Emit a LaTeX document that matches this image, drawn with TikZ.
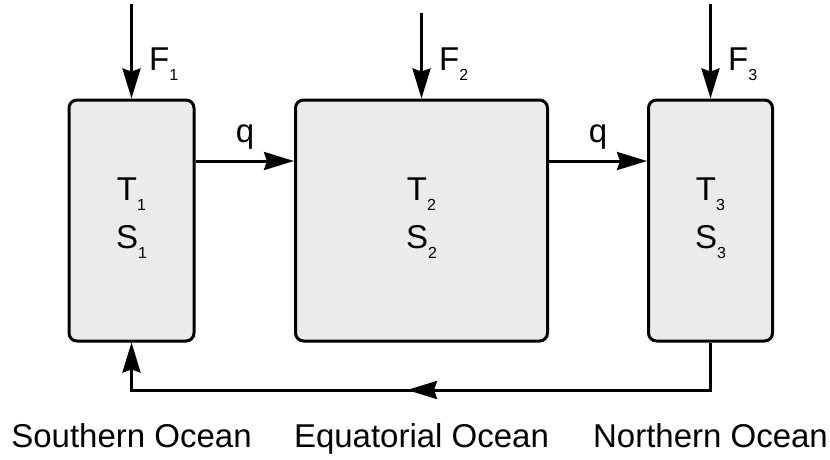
\documentclass[tikz,border=0pt]{standalone}
\usepackage{fontspec}
\setmainfont{Liberation Sans}
\usetikzlibrary{arrows.meta,calc}
\newcommand{\sbx}[1]{\raisebox{-10pt}{\fontsize{16pt}{16pt}\selectfont #1}}
\definecolor{boxgray}{RGB}{235,235,235}
\begin{document}
\begin{tikzpicture}[x=1pt,y=-1pt,
  ocean/.style={draw=black, line width=3pt, fill=boxgray, rounded corners=8pt, inner sep=0pt, minimum height=241pt},
  flow/.style={line width=3pt, -{Stealth[length=30pt,width=18pt,inset=3pt]}},
  lbl/.style={font=\fontsize{33pt}{33pt}\selectfont, inner sep=0pt, anchor=base},
  flbl/.style={font=\fontsize{33pt}{33pt}\selectfont, inner sep=0pt, anchor=base west}]
\useasboundingbox (0,0) rectangle (830,459);
% boxes
\node[ocean, minimum width=125pt] (L) at (131.5,220.5) {};
\node[ocean, minimum width=252pt] (M) at (421.5,220.5) {};
\node[ocean, minimum width=124pt] (R) at (710.5,220.5) {};
% box contents
\node[lbl] (t1) at (131.5,200) {T\sbx{1}};
\node[lbl] (s1) at (131.5,248) {S\sbx{1}};
\node[lbl] (t2) at (421.5,200) {T\sbx{2}};
\node[lbl] (s2) at (421.5,248) {S\sbx{2}};
\node[lbl] (t3) at (710.5,200) {T\sbx{3}};
\node[lbl] (s3) at (710.5,248) {S\sbx{3}};
% forcing arrows
\coordinate (f1) at (L.north |- 0,4);
\coordinate (f2) at (M.north |- 0,13);
\coordinate (f3) at (R.north |- 0,4);
\draw[flow] (f1) -- (L.north);
\draw[flow] (f2) -- (M.north);
\draw[flow] (f3) -- (R.north);
\node[flbl] (F1) at ($(L.north |- 0,70)+(17.5,0)$) {F\sbx{1}};
\node[flbl] (F2) at ($(M.north |- 0,70)+(17.5,0)$) {F\sbx{2}};
\node[flbl] (F3) at ($(R.north |- 0,70)+(17.5,0)$) {F\sbx{3}};
% q arrows
\coordinate (qy) at (0,161);
\draw[flow] (L.east |- qy) -- (M.west |- qy);
\draw[flow] (M.east |- qy) -- (R.west |- qy);
\node[lbl] (q1) at (245,142) {q};
\node[lbl] (q2) at (598,142) {q};
% return flow
\coordinate (br) at (R.south |- 0,390);
\coordinate (bl) at (L.south |- 0,390);
\draw[flow] (R.south) -- (br) -- (bl) -- (L.south);
\draw[flow] (br) -- ($(br)!0.5!(bl)+(-14,0)$);
% region labels
\node[lbl] (so) at (131.5,447) {Southern Ocean};
\node[lbl] (eo) at (421.5,447) {Equatorial Ocean};
\node[lbl] (no) at (710.5,447) {Northern Ocean};
\end{tikzpicture}
\end{document}
